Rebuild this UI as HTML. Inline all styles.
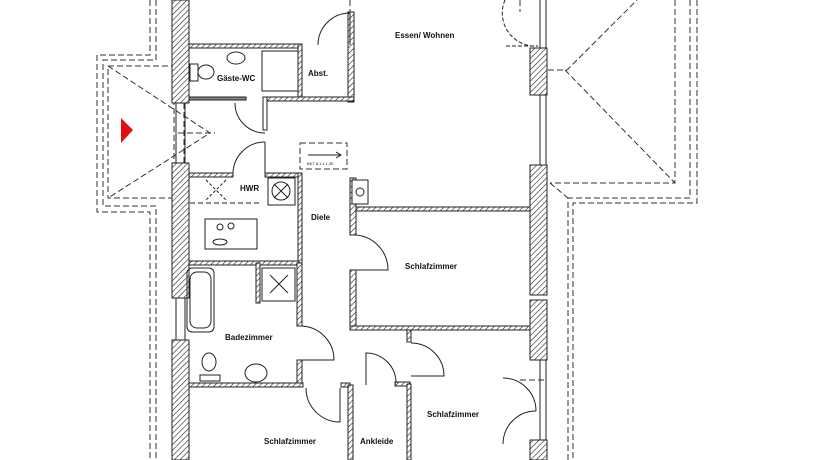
<!DOCTYPE html>
<html><head><meta charset="utf-8"><style>
html,body{margin:0;padding:0;background:#fff;}
svg{display:block;}
text{font-family:"Liberation Sans",sans-serif;font-size:8px;font-weight:bold;fill:#111;}
</style></head><body>
<svg width="840" height="460" viewBox="0 0 840 460" xmlns="http://www.w3.org/2000/svg">
<defs>
<pattern id="h" width="4" height="4" patternUnits="userSpaceOnUse" patternTransform="rotate(45)">
<rect width="4" height="4" fill="#fff"/><line x1="0" y1="0" x2="0" y2="4" stroke="#222" stroke-width="1.2"/>
</pattern>
</defs>
<g fill="none" stroke="#333" stroke-width="1" stroke-dasharray="6,3">
<polyline points="150,0 150,55 97,55 97,212 150,212 150,460"/>
<polyline points="156,0 156,60 103,60 103,206 156,206 156,460"/>
<rect x="108" y="66" width="66" height="132"/>
<polyline points="108,66 210,133 108,198"/>
<polyline points="548,70 567,70 637,0"/>
<polyline points="565,70 675,183"/>
<polyline points="675,0 675,183 550,183"/>
<polyline points="690,0 690,198 568,198 568,460"/>
<polyline points="697,0 697,203 573,203 573,460"/>
<polyline points="550,183 568,198"/>
<rect x="300" y="143" width="47" height="26"/>
<line x1="350" y1="0" x2="350" y2="12"/>
<line x1="520" y1="0" x2="520" y2="12"/>
<line x1="520" y1="380" x2="546" y2="380"/>
<line x1="184" y1="103" x2="184" y2="165"/>
<polyline points="178,133 215,133"/>
</g>
<polygon points="121,118 133,130 121,143" fill="#e01010"/>
<g stroke="#222" stroke-width="1">
<rect x="172" y="0" width="17" height="103" fill="url(#h)"/>
<rect x="172" y="163" width="17" height="135" fill="url(#h)"/>
<rect x="172" y="340" width="17" height="120" fill="url(#h)"/>
<line x1="176" y1="103" x2="176" y2="163"/><line x1="185" y1="103" x2="185" y2="163"/>
<line x1="176" y1="298" x2="176" y2="340"/><line x1="185" y1="298" x2="185" y2="340"/>
<rect x="530" y="48" width="17" height="47" fill="url(#h)"/>
<rect x="530" y="165" width="17" height="130" fill="url(#h)"/>
<rect x="530" y="300" width="17" height="60" fill="url(#h)"/>
<rect x="530" y="440" width="17" height="20" fill="url(#h)"/>
<line x1="540" y1="0" x2="540" y2="48"/><line x1="546" y1="0" x2="546" y2="48"/>
<line x1="540" y1="95" x2="540" y2="165"/><line x1="546" y1="95" x2="546" y2="165"/>
<line x1="540" y1="360" x2="540" y2="440"/><line x1="546" y1="360" x2="546" y2="440"/>
<rect x="189" y="44" width="111" height="4" fill="url(#h)"/>
<rect x="298" y="44" width="4" height="56" fill="url(#h)"/>
<rect x="348" y="12" width="6" height="90" fill="url(#h)"/>
<rect x="265" y="97" width="89" height="4" fill="url(#h)"/>
<rect x="189" y="97" width="57" height="3" fill="#888"/>
<rect x="263" y="97" width="4" height="33" fill="#fff"/>
<rect x="189" y="173" width="44" height="4" fill="url(#h)"/>
<rect x="265" y="173" width="35" height="4" fill="url(#h)"/>
<rect x="298" y="173" width="4" height="90" fill="url(#h)"/>
<rect x="350" y="178" width="6" height="57" fill="url(#h)"/>
<rect x="350" y="270" width="6" height="60" fill="url(#h)"/>
<rect x="356" y="207" width="174" height="4" fill="url(#h)"/>
<rect x="350" y="326" width="180" height="4" fill="url(#h)"/>
<rect x="407" y="330" width="4" height="12" fill="url(#h)"/>
<rect x="189" y="261" width="110" height="4" fill="url(#h)"/>
<rect x="256" y="263" width="4" height="40" fill="url(#h)"/>
<rect x="297" y="263" width="5" height="63" fill="url(#h)"/>
<rect x="297" y="360" width="5" height="27" fill="url(#h)"/>
<rect x="189" y="383" width="114" height="4" fill="url(#h)"/>
<rect x="341" y="383" width="9" height="4" fill="url(#h)"/>
<rect x="348" y="385" width="5" height="75" fill="url(#h)"/>
<rect x="395" y="382" width="15" height="4" fill="url(#h)"/>
<rect x="407" y="384" width="4" height="76" fill="url(#h)"/>
<rect x="352" y="180" width="16" height="24" fill="#fff"/>
<circle cx="360" cy="192" r="4" fill="none"/>
</g>
<g fill="none" stroke="#222" stroke-width="1">
<path d="M318,45 A32,32 0 0 1 350,13"/><line x1="350" y1="13" x2="350" y2="45"/>
<path d="M235,103 A30,30 0 0 0 265,133"/>
<path d="M233,175 A32,32 0 0 1 265,142"/><line x1="265" y1="142" x2="265" y2="175"/>
<path d="M356,235 A35,35 0 0 1 388,270 L356,270"/>
<path d="M302,326 A34,34 0 0 1 334,360 L302,360"/>
<path d="M306,388 A34,34 0 0 0 340,422 L340,388"/>
<path d="M366,385 L366,353 A30,30 0 0 1 396,383"/>
<path d="M411,343 A33,33 0 0 1 444,376 L411,376"/>
<path d="M505,0 A33,33 0 0 0 538,46 L505,46" stroke-dasharray="4,2"/>
<path d="M503,378 A33,33 0 0 1 536,411"/><path d="M503,444 A33,33 0 0 1 536,411"/>
<ellipse cx="236" cy="58" rx="9" ry="6"/>
<rect x="262" y="51" width="36" height="40"/>
<ellipse cx="206" cy="72" rx="8" ry="7"/><rect x="190" y="64" width="8" height="17"/>
<rect x="268" y="178" width="27" height="27"/><circle cx="281" cy="191" r="9"/>
<path d="M274,184 L288,198 M288,184 L274,198"/>
<path d="M206,180 L226,200 M226,180 L206,200" stroke-dasharray="3,2"/>
<line x1="190" y1="203" x2="260" y2="203" stroke-dasharray="5,3"/>
<rect x="205" y="219" width="52" height="30"/>
<circle cx="220" cy="227" r="3"/><circle cx="231" cy="226" r="3"/><ellipse cx="220" cy="242" rx="7" ry="3"/>
<rect x="187" y="268" width="27" height="64" rx="5"/><rect x="190" y="272" width="21" height="56" rx="7"/>
<rect x="262" y="268" width="33" height="33"/>
<path d="M270,275 L288,293 M288,275 L270,293"/>
<ellipse cx="209" cy="362" rx="7" ry="9"/><rect x="200" y="375" width="20" height="6"/>
<ellipse cx="256" cy="373" rx="11" ry="9"/>
<line x1="308" y1="155" x2="340" y2="155"/><path d="M336,152 L341,155 L336,158"/>
</g>
<g>
<text x="395" y="38">Essen/ Wohnen</text>
<text x="217" y="81">Gäste-WC</text>
<text x="308" y="76">Abst.</text>
<text x="240" y="191">HWR</text>
<text x="311" y="220">Diele</text>
<text x="405" y="269">Schlafzimmer</text>
<text x="225" y="340">Badezimmer</text>
<text x="427" y="417">Schlafzimmer</text>
<text x="264" y="444">Schlafzimmer</text>
<text x="360" y="444">Ankleide</text>
<text x="307" y="165" style="font-size:4px;font-weight:normal">BKT 8,1 x 1,30</text>
</g>
</svg>
</body></html>
